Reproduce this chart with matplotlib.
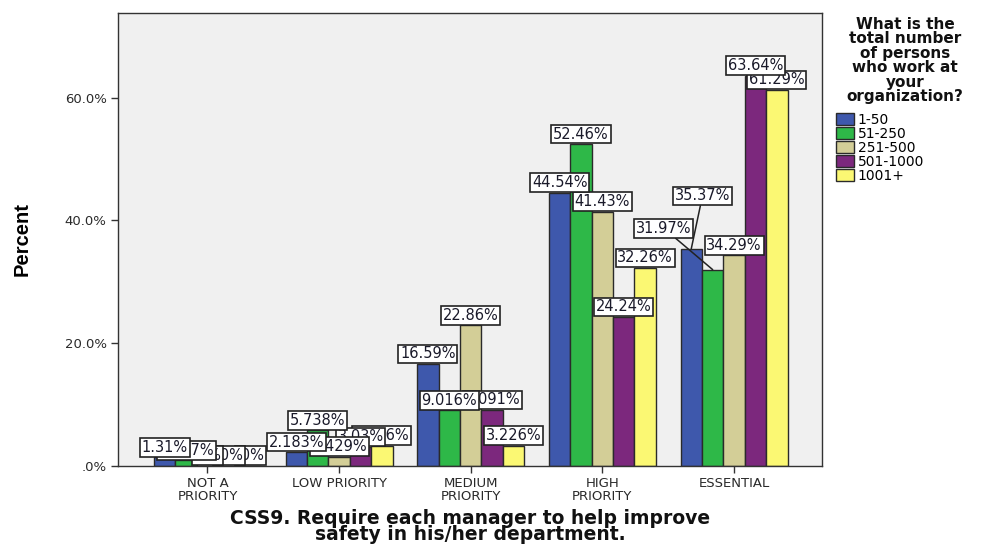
import matplotlib
matplotlib.use("Agg")
import matplotlib.pyplot as plt
from matplotlib.patches import Patch

# ---------------- data ----------------
categories = ["NOT A\nPRIORITY", "LOW PRIORITY", "MEDIUM\nPRIORITY", "HIGH\nPRIORITY", "ESSENTIAL"]
series_names = ["1-50", "51-250", "251-500", "501-1000", "1001+"]
v_1_50 = [1.31, 2.183, 16.59, 44.54, 35.37]
v_51_250 = [0.8197, 5.738, 9.016, 52.46, 31.97]
v_251_500 = [0.0, 1.429, 22.86, 41.43, 34.29]
v_501_1000 = [0.0, 3.03, 9.091, 24.24, 63.64]
v_1001_plus = [0.0, 3.226, 3.226, 32.26, 61.29]
lab_1_50 = ["1.31%", "2.183%", "16.59%", "44.54%", "35.37%"]
lab_51_250 = [".8197%", "5.738%", "9.016%", "52.46%", "31.97%"]
lab_251_500 = [".0%", "1.429%", "22.86%", "41.43%", "34.29%"]
lab_501_1000 = [".0%", "3.03%", "9.091%", "24.24%", "63.64%"]
lab_1001_plus = [".0%", "3.226%", "3.226%", "32.26%", "61.29%"]
yticks = [0, 20, 40, 60]
ytick_labels = [".0%", "20.0%", "40.0%", "60.0%"]
legend_title = "What is the\ntotal number\nof persons\nwho work at\nyour\norganization?"
xlabel = "CSS9. Require each manager to help improve\nsafety in his/her department."
ylabel = "Percent"

values = [v_1_50, v_51_250, v_251_500, v_501_1000, v_1001_plus]
labels = [lab_1_50, lab_51_250, lab_251_500, lab_501_1000, lab_1001_plus]

# ---------------- style ----------------
colors = ["#3E58AC", "#2EB848", "#D3CE97", "#7C287D", "#FBF873"]
bar_w = 0.1625
# (category, series) -> label center offset (dx in data x, absolute y in %), with leader line
leader_labels = {(4, 0): (0.085, 44.0), (4, 1): (-0.37, 38.7)}

fig = plt.figure(figsize=(9.85, 5.44), dpi=100)
ax = fig.add_axes([0.1203, 0.1443, 0.7142, 0.8312])
ax.set_facecolor("#F0F0F0")

n = len(series_names)
for j in range(n):
    xs = [i + (j - (n - 1) / 2) * bar_w for i in range(len(categories))]
    ax.bar(xs, values[j], width=bar_w, color=colors[j], edgecolor="#2a2a2a",
           linewidth=1.0, zorder=2, label=series_names[j])
    for i, (x, v, t) in enumerate(zip(xs, values[j], labels[j])):
        bbox = dict(boxstyle="square,pad=0.12", fc="white", ec="#222222", lw=1.2)
        if (i, j) in leader_labels:
            dx, yc = leader_labels[(i, j)]
            ax.annotate(t, xy=(x, v), xytext=(x + dx, yc), textcoords="data",
                        ha="center", va="center", fontsize=10.5, color="#1a1a2a",
                        bbox=bbox, zorder=20 - j,
                        arrowprops=dict(arrowstyle="-", color="#222222", lw=1.1,
                                        shrinkA=0, shrinkB=0))
        else:
            ax.annotate(t, xy=(x, v), xytext=(0, 1.8), textcoords="offset points",
                        ha="center", va="bottom", fontsize=10.5, color="#1a1a2a",
                        bbox=bbox, zorder=20 - j, annotation_clip=False)

ax.set_xlim(-0.676, 4.668)
ax.set_ylim(0, 73.8)
ax.set_yticks(yticks)
ax.set_yticklabels(ytick_labels, fontsize=9.5, color="#2a2a2a")
ax.set_xticks(range(len(categories)))
ax.set_xticklabels(categories, fontsize=9.5, color="#2a2a2a", linespacing=0.95)
ax.tick_params(axis="both", direction="out", length=5, width=1, color="#333333")
for s in ax.spines.values():
    s.set_color("#333333")
    s.set_linewidth(1.0)

ax.set_ylabel(ylabel, fontsize=14.5, fontweight="bold",
              family=["Liberation Sans", "DejaVu Sans"], labelpad=24)
ax.set_xlabel(xlabel, fontsize=13.5, fontweight="bold", linespacing=0.8,
              labelpad=4.5, color="#111111")

handles = [Patch(facecolor=colors[j], edgecolor="#2a2a2a", lw=1.0) for j in range(n)]
fig.text(905 / 985, 1 - 17 / 544, legend_title, ha="center", va="top",
         fontsize=11, fontweight="bold", linespacing=0.95, color="#111111")
leg = fig.legend(handles, series_names, loc="upper left",
                 bbox_to_anchor=(836 / 985, 1 - 113 / 544), frameon=False,
                 fontsize=10, labelspacing=0.0, handlelength=1.3, handleheight=0.95,
                 handletextpad=0.25, borderpad=0.0, borderaxespad=0.0)

fig.savefig("out.png", dpi=100)
